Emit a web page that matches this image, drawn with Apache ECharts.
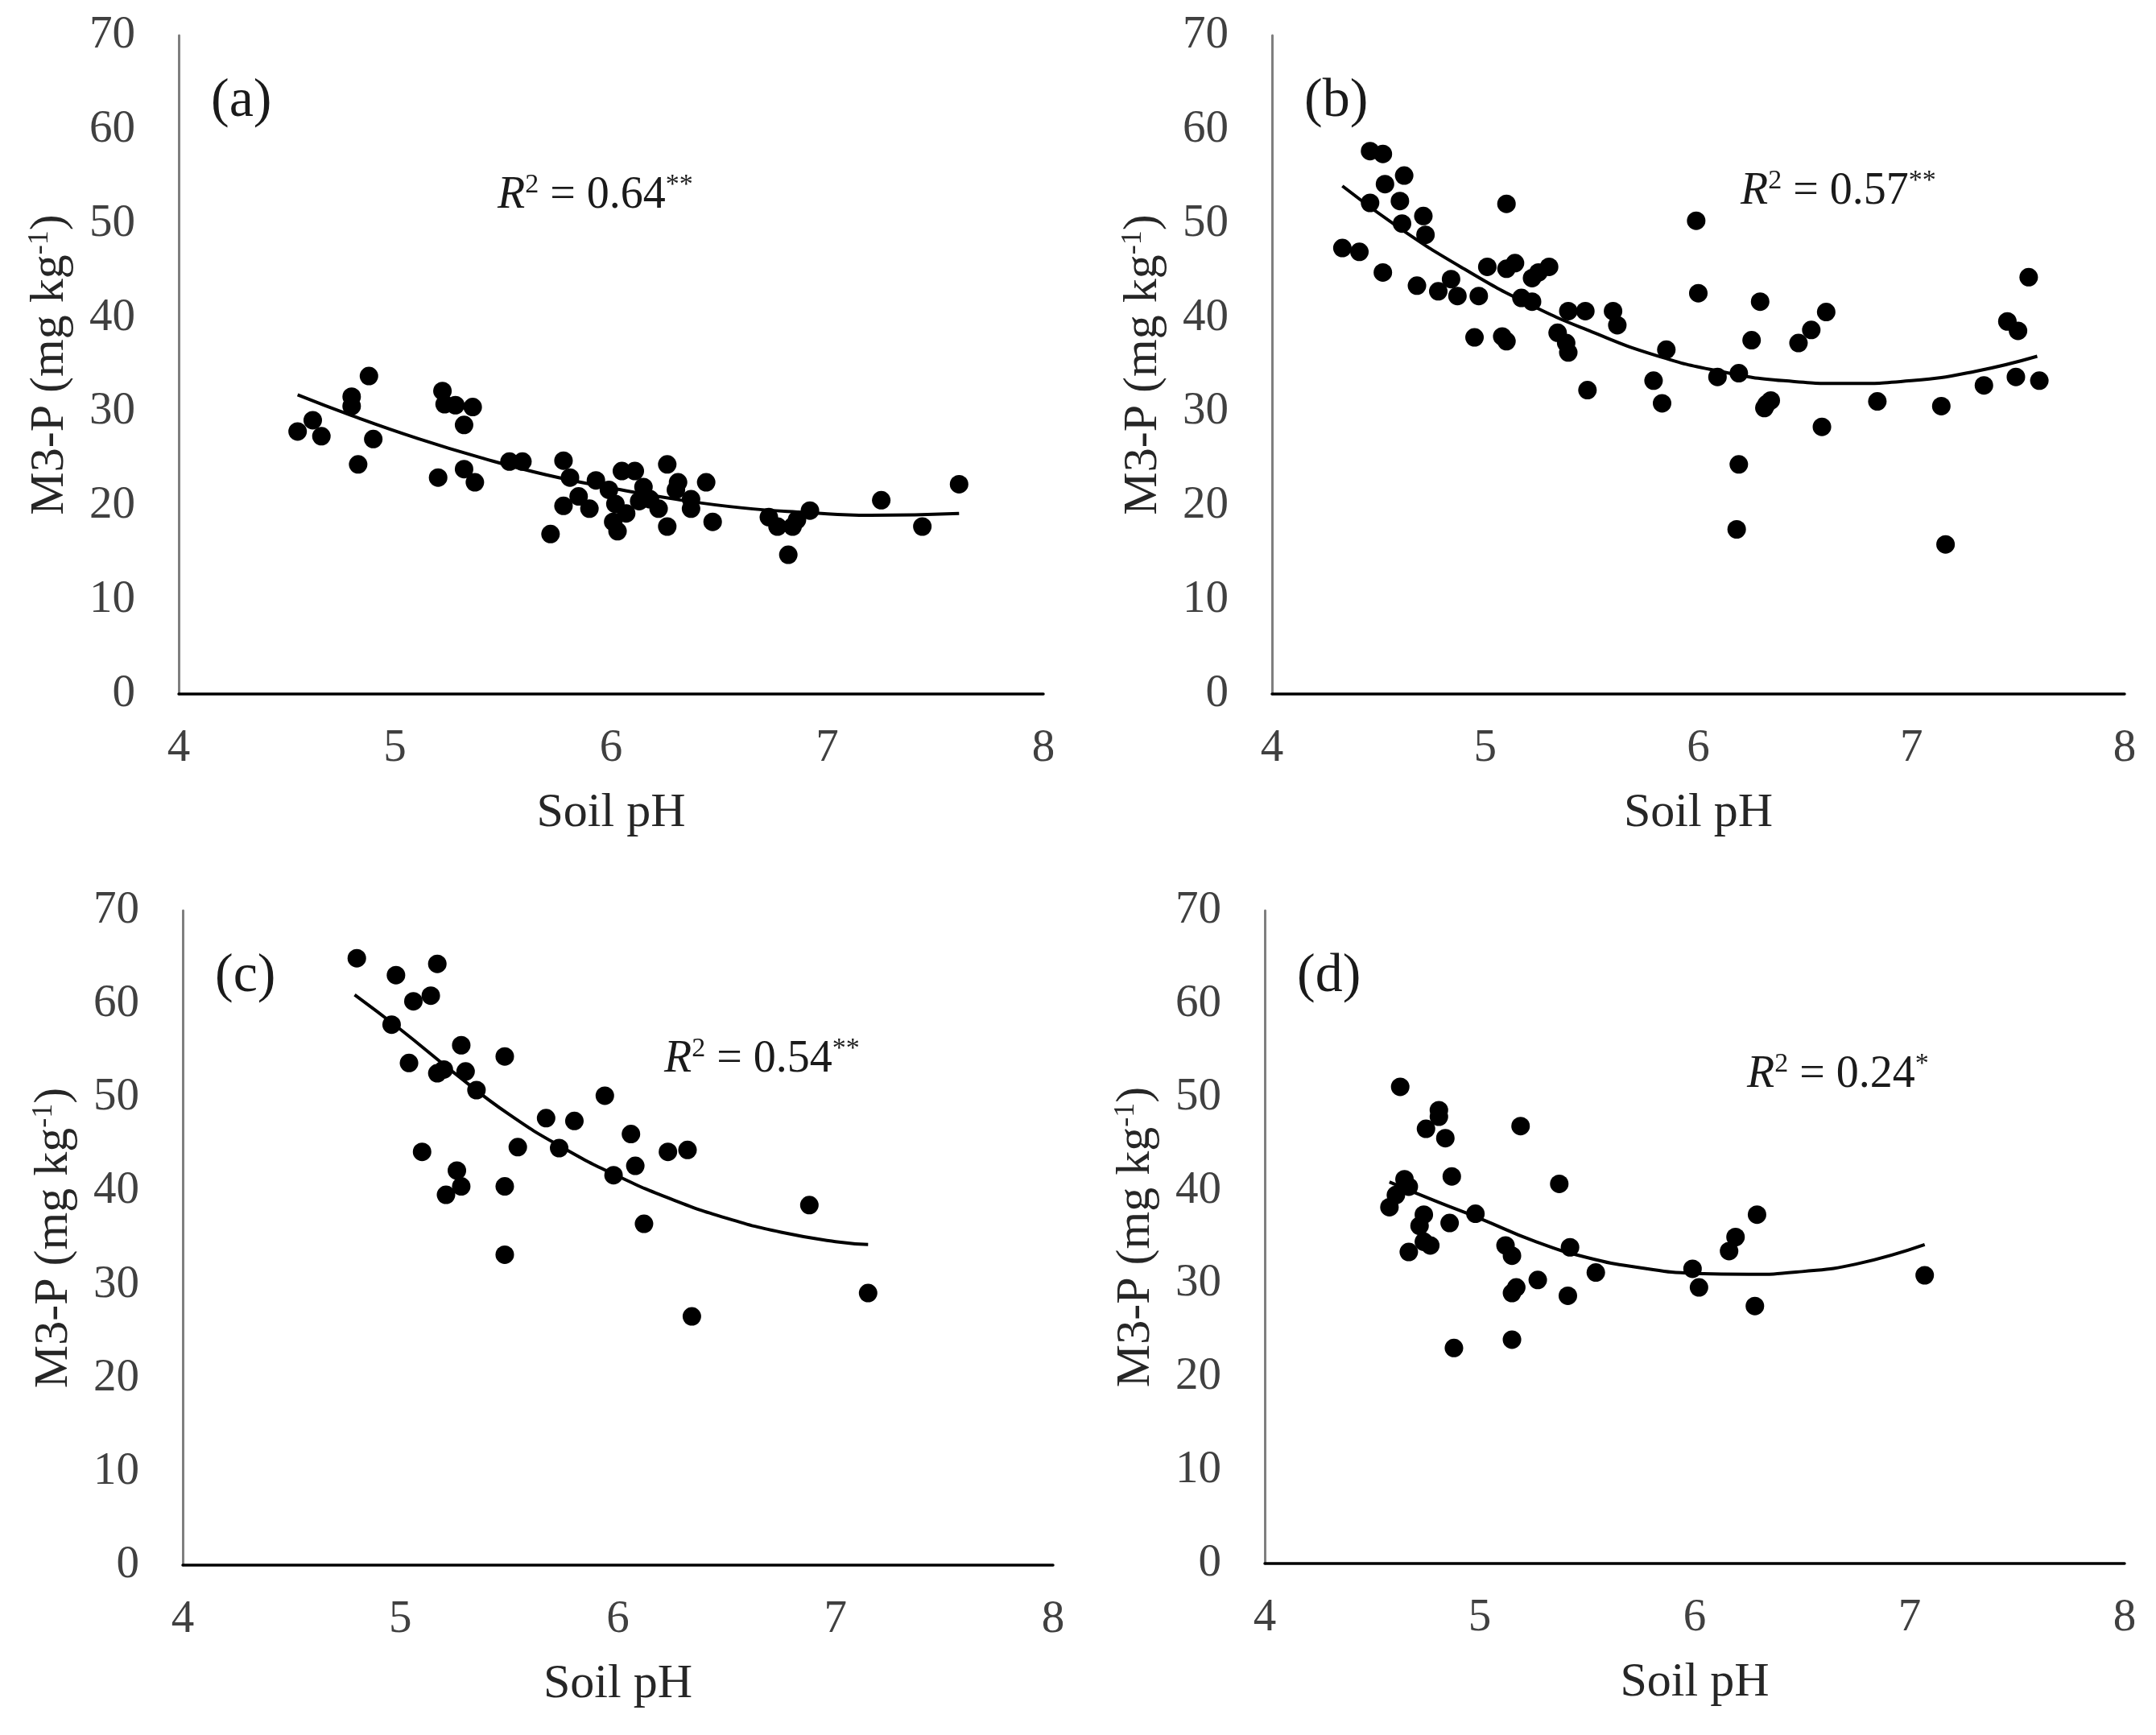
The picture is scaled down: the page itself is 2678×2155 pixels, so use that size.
<!DOCTYPE html>
<html>
<head>
<meta charset="utf-8" />
<title>M3-P vs soil pH</title>
<script src="https://cdn.jsdelivr.net/npm/echarts@6/dist/echarts.min.js"></script>
<style>
  html, body { margin: 0; padding: 0; background: #fff; }
  #chart { width: 2678px; height: 2155px; }
</style>
</head>
<body>
<div id="chart"></div>
<script type="text/javascript">
// ---- data ----
var panelNames = ['(a)', '(b)', '(c)', '(d)'];
var r2Values = ['0.64', '0.57', '0.54', '0.24'];
var r2Stars = ['**', '**', '**', '*'];
var xTicks = [4, 5, 6, 7, 8];
var yTicks = [0, 10, 20, 30, 40, 50, 60, 70];

// (a)
var phA = [4.55, 4.62, 4.66, 4.80, 4.80, 4.88, 4.90, 4.83, 5.22, 5.23, 5.28, 5.36, 5.32, 5.20, 5.32, 5.37, 5.53, 5.59,
  5.78, 5.72, 5.81, 5.78, 5.85, 5.90, 5.93, 5.99, 6.02, 6.03, 6.05, 6.07, 6.11, 6.15, 6.18, 6.22, 6.26, 6.26,
  6.30, 6.31, 6.37, 6.44, 6.47, 6.73, 6.77, 6.82, 6.84, 6.86, 6.92, 7.25, 7.44, 7.61, 6.01, 6.13, 6.37];
var mpA = [27.9, 29.1, 27.4, 31.6, 30.6, 33.8, 27.1, 24.4, 32.2, 30.8, 30.7, 30.5, 28.6, 23.0, 23.9, 22.5, 24.7, 24.7,
  24.8, 17.0, 23.0, 20.0, 21.0, 19.7, 22.7, 21.7, 20.2, 17.3, 23.7, 19.2, 23.7, 22.0, 20.7, 19.7, 24.4, 17.8,
  21.7, 22.5, 19.7, 22.5, 18.3, 18.8, 17.8, 14.8, 17.8, 18.5, 19.5, 20.6, 17.8, 22.3, 18.3, 20.5, 20.7];
var fitPhA = [4.55, 4.8, 5.1, 5.4, 5.7, 6.0, 6.3, 6.6, 6.9, 7.2, 7.61];
var fitMpA = [31.8, 29.6, 27.2, 25.1, 23.3, 21.9, 20.7, 19.8, 19.3, 19.0, 19.2];

// (b)
var phB = [4.33, 4.41, 4.46, 4.46, 4.52, 4.53, 4.52, 4.60, 4.62, 4.61, 4.71, 4.72, 4.68, 4.78, 4.84, 4.87, 4.97, 4.95,
  5.01, 5.08, 5.10, 5.10, 5.10, 5.14, 5.17, 5.22, 5.22, 5.25, 5.30, 5.34, 5.39, 5.39, 5.38, 5.47, 5.48, 5.60,
  5.62, 5.79, 5.83, 5.85, 5.99, 6.00, 6.09, 6.19, 6.19, 6.18, 6.25, 6.29, 6.31, 6.34, 6.32, 6.47, 6.53, 6.58,
  6.60, 6.84, 7.14, 7.16, 7.34, 7.45, 7.50, 7.49, 7.55, 7.60];
var mpB = [47.4, 47.0, 52.2, 57.7, 57.4, 54.2, 44.8, 52.4, 55.1, 50.0, 50.8, 48.8, 43.4, 42.8, 44.1, 42.3, 42.3, 37.9,
  45.4, 38.0, 37.5, 52.1, 45.2, 45.8, 42.1, 41.7, 44.2, 44.8, 45.4, 38.4, 40.7, 36.3, 37.3, 40.7, 32.3, 40.7,
  39.2, 33.3, 30.9, 36.6, 50.3, 42.6, 33.7, 34.1, 24.4, 17.5, 37.6, 41.7, 30.4, 31.2, 30.8, 37.3, 38.7, 28.4,
  40.6, 31.1, 30.6, 15.9, 32.8, 39.6, 38.6, 33.7, 44.3, 33.3];
var fitPhB = [4.33, 4.6, 4.9, 5.2, 5.5, 5.8, 6.1, 6.4, 6.7, 7.0, 7.3, 7.59];
var fitMpB = [54.0, 49.5, 45.2, 41.5, 38.5, 36.0, 34.3, 33.3, 33.0, 33.3, 34.3, 35.9];

// (c)
var phC = [4.80, 4.98, 5.17, 5.06, 5.14, 4.96, 5.28, 5.04, 5.48, 5.17, 5.20, 5.30, 5.35, 5.94, 5.67, 5.80, 6.06,
  5.54, 5.73, 5.10, 6.23, 6.32, 6.08, 5.26, 5.28, 5.21, 5.48, 5.98, 6.12, 6.88, 5.48, 7.15, 6.34];
var mpC = [64.9, 63.1, 64.3, 60.3, 60.9, 57.8, 55.6, 53.7, 54.4, 52.6, 53.0, 52.8, 50.8, 50.2, 47.8, 47.5, 46.1,
  44.7, 44.6, 44.2, 44.2, 44.4, 42.7, 42.2, 40.5, 39.6, 40.5, 41.7, 36.5, 38.5, 33.2, 29.1, 26.6];
var fitPhC = [4.79, 5.0, 5.25, 5.5, 5.75, 6.0, 6.25, 6.5, 6.75, 7.0, 7.15];
var fitMpC = [61.0, 57.3, 52.6, 48.2, 44.6, 41.6, 39.1, 37.1, 35.6, 34.6, 34.3];

// (d)
var phD = [4.63, 4.81, 4.81, 4.75, 4.84, 5.19, 4.87, 5.37, 4.65, 4.67, 4.61, 4.58, 4.74, 4.72, 4.86, 4.98, 4.74,
  4.77, 4.67, 5.12, 5.15, 5.42, 5.54, 5.27, 5.17, 5.15, 5.41, 5.99, 6.02, 6.19, 6.16, 6.29, 6.28, 7.07, 4.88, 5.15];
var mpD = [51.1, 48.6, 47.9, 46.6, 45.6, 46.9, 41.5, 40.7, 41.2, 40.4, 39.5, 38.2, 37.4, 36.2, 36.5, 37.5, 34.5,
  34.1, 33.4, 34.1, 33.0, 33.9, 31.2, 30.4, 29.6, 29.0, 28.7, 31.6, 29.6, 35.0, 33.5, 37.4, 27.6, 30.9, 23.1, 24.0];
var fitPhD = [4.58, 4.8, 5.0, 5.25, 5.5, 5.75, 6.0, 6.25, 6.5, 6.75, 7.07];
var fitMpD = [40.9, 38.8, 37.0, 34.6, 32.8, 31.7, 31.1, 31.0, 31.3, 32.1, 34.2];

var pointsPh = [phA, phB, phC, phD];
var pointsMp = [mpA, mpB, mpC, mpD];
var fitPh = [fitPhA, fitPhB, fitPhC, fitPhD];
var fitMp = [fitMpA, fitMpB, fitMpC, fitMpD];

// ---- layout ----
var grids = [
  { left: 222, top: 44, width: 1074, height: 818 },
  { left: 1580, top: 44, width: 1059, height: 818 },
  { left: 227, top: 1131, width: 1081, height: 813 },
  { left: 1571, top: 1131, width: 1068, height: 811 }
];
var r2Pos = [[618, 243], [2162, 238], [825, 1316], [2170, 1335]];

var serif = '"Liberation Serif", "Times New Roman", serif';

function zip(xs, ys) {
  var out = [];
  for (var i = 0; i < xs.length; i++) out.push([xs[i], ys[i]]);
  return out;
}

var option = {
  backgroundColor: '#fff',
  animation: false,
  grid: grids,
  xAxis: [],
  yAxis: [],
  series: [],
  graphic: []
};

for (var k = 0; k < 4; k++) {
  option.xAxis.push({
    gridIndex: k,
    type: 'value',
    min: xTicks[0],
    max: xTicks[xTicks.length - 1],
    interval: 1,
    name: 'Soil pH',
    nameLocation: 'middle',
    nameGap: 118,
    nameTextStyle: { fontFamily: serif, fontSize: 60, color: '#262626' },
    axisLine: { show: true, onZero: false, lineStyle: { color: '#000', width: 3.5 } },
    axisTick: { show: false },
    splitLine: { show: false },
    axisLabel: { fontFamily: serif, fontSize: 57, color: '#404040', margin: 40 }
  });
  option.yAxis.push({
    gridIndex: k,
    type: 'value',
    min: yTicks[0],
    max: yTicks[yTicks.length - 1],
    interval: 10,
    name: 'M3-P (mg kg{sup|-1})',
    nameLocation: 'middle',
    nameRotate: 90,
    nameGap: 130,
    nameTextStyle: {
      fontFamily: serif, fontSize: 60, color: '#262626',
      rich: { sup: { fontFamily: serif, fontSize: 36, color: '#262626', verticalAlign: 'top', lineHeight: 60 } }
    },
    axisLine: { show: true, onZero: false, lineStyle: { color: '#7f7f7f', width: 3 } },
    axisTick: { show: false },
    splitLine: { show: false },
    axisLabel: { fontFamily: serif, fontSize: 57, color: '#404040', margin: 54 }
  });
  option.series.push({
    type: 'scatter',
    xAxisIndex: k,
    yAxisIndex: k,
    symbol: 'circle',
    symbolSize: 23,
    itemStyle: { color: '#000', opacity: 1 },
    data: zip(pointsPh[k], pointsMp[k])
  });
  option.series.push({
    type: 'line',
    xAxisIndex: k,
    yAxisIndex: k,
    smooth: true,
    showSymbol: false,
    lineStyle: { color: '#000', width: 4 },
    data: zip(fitPh[k], fitMp[k]),
    z: 3
  });
  option.graphic.push({
    type: 'text',
    x: grids[k].left + 40,
    y: grids[k].top + 82,
    style: {
      text: panelNames[k],
      fontFamily: serif, fontSize: 68, fill: '#1a1a1a',
      align: 'left', verticalAlign: 'middle'
    }
  });
  option.graphic.push({
    type: 'text',
    x: r2Pos[k][0],
    y: r2Pos[k][1],
    style: {
      text: '{it|R}{sup|2}{n| = ' + r2Values[k] + '}{sup|' + r2Stars[k] + '}',
      align: 'left', verticalAlign: 'middle',
      rich: {
        it: { fontFamily: serif, fontStyle: 'italic', fontSize: 56, fill: '#1a1a1a', lineHeight: 60 },
        n: { fontFamily: serif, fontSize: 56, fill: '#1a1a1a', lineHeight: 60 },
        sup: { fontFamily: serif, fontSize: 34, fill: '#1a1a1a', lineHeight: 60, verticalAlign: 'top' }
      }
    }
  });
}

var myChart = echarts.init(document.getElementById('chart'));
myChart.setOption(option);
</script>
</body>
</html>
